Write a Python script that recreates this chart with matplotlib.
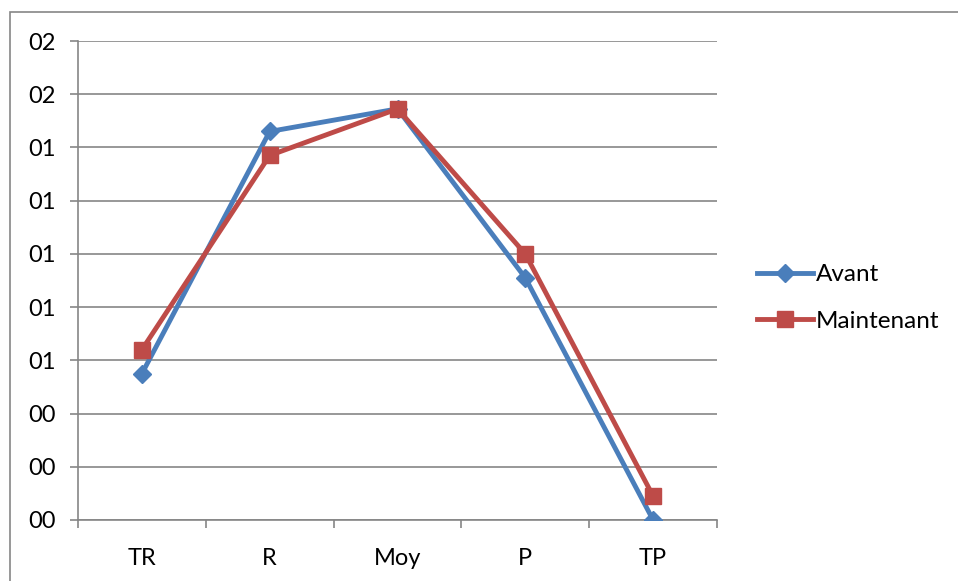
import numpy as np
import matplotlib.pyplot as plt
from matplotlib.patches import Rectangle

plt.rcParams['font.family'] = ['Lato', 'DejaVu Sans']

# data
categories = ["TR", "R", "Moy", "P", "TP"]
avant = [0.55, 1.46, 1.545, 0.91, 0.0]
maintenant = [0.64, 1.37, 1.545, 1.0, 0.09]
y_ticks = [0.0, 0.2, 0.4, 0.6, 0.8, 1.0, 1.2, 1.4, 1.6, 1.8]
y_labels = ["00", "00", "00", "01", "01", "01", "01", "01", "02", "02"]

fig = plt.figure(figsize=(9.58, 5.81), dpi=100)
ax = fig.add_axes([78 / 958, 1 - 520 / 581, (717 - 78) / 958, (520 - 41) / 581])

# outer chart border
fig.patches.append(Rectangle((10 / 958, -0.05), 1.0, 1 - 12 / 581 + 0.05,
                             transform=fig.transFigure, fill=False,
                             edgecolor="#868686", linewidth=1.2))

x = np.arange(len(categories))
ax.plot(x, avant, color="#4A7EBB", linewidth=3.5, marker="D", markersize=9,
        label="Avant", zorder=3)
ax.plot(x, maintenant, color="#BE4B48", linewidth=3.5, marker="s", markersize=11,
        label="Maintenant", zorder=3)

ax.set_xlim(-0.5, len(categories) - 0.5)
ax.set_ylim(0, 1.8)
ax.set_yticks(y_ticks)
ax.set_yticklabels(y_labels, fontsize=17)
ax.set_xticks(x)
ax.set_xticklabels(categories, fontsize=17)
ax.set_xticks(np.arange(-0.5, len(categories), 1.0), minor=True)
ax.tick_params(axis="x", which="major", length=0, pad=20)
ax.tick_params(axis="x", which="minor", length=6, color="#868686", width=1.2)
ax.tick_params(axis="y", length=6, color="#868686", width=1.2, pad=10)

ax.grid(axis="y", color="#868686", linewidth=1.2)
ax.set_axisbelow(True)
for side in ["top", "right"]:
    ax.spines[side].set_visible(False)
for side in ["left", "bottom"]:
    ax.spines[side].set_color("#868686")
    ax.spines[side].set_linewidth(1.2)

ax.legend(loc="center left", bbox_to_anchor=(1.063, 0.463), frameon=False,
          fontsize=17.5, handlelength=2.3, handletextpad=0.1, labelspacing=1.05,
          borderpad=0, borderaxespad=0)

fig.savefig("out.png", dpi=100)
